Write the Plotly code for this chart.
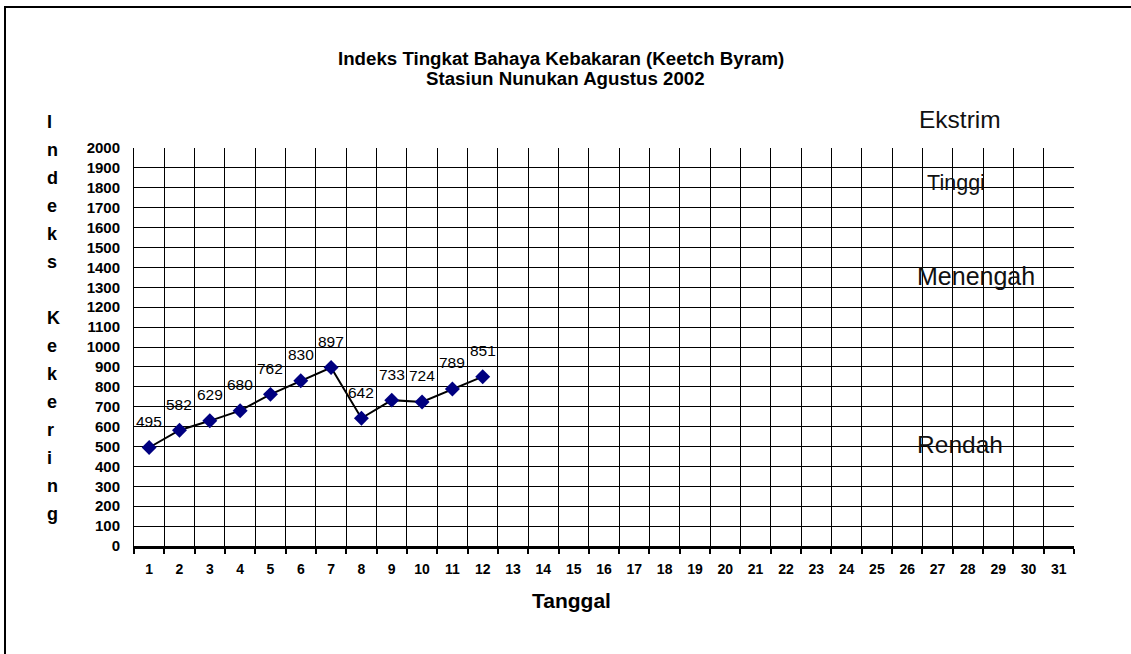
import plotly.graph_objects as go

# ---- data ----
days = [str(d) for d in range(1, 32)]
obs_days = ["1", "2", "3", "4", "5", "6", "7", "8", "9", "10", "11", "12"]
kbdi = [495, 582, 629, 680, 762, 830, 897, 642, 733, 724, 789, 851]
y_ticks = list(range(0, 2001, 100))
title_lines = ["Indeks Tingkat Bahaya Kebakaran (Keetch Byram)", "Stasiun Nunukan Agustus 2002"]
x_title = "Tanggal"
y_title = "Indeks Kekering"
class_labels = ["Ekstrim", "Tinggi", "Menengah", "Rendah"]

W, H = 1131, 654
L, R, T, B = 134, 57, 148, 108
PW, PH = W - L - R, H - T - B
FONT = "Arial, 'Liberation Sans', sans-serif"


def px(x):
    return (x - L) / PW


def py(y):
    return (H - B - y) / PH


fig = go.Figure()
fig.add_trace(go.Scatter(
    x=obs_days, y=kbdi, mode="lines+markers",
    line=dict(color="black", width=2),
    marker=dict(symbol="diamond", size=11.5, color="#000080",
                line=dict(width=0)),
    showlegend=False, hoverinfo="skip",
))

annotations = []
# data labels (category axis: position by category index)
for d, v in zip(obs_days, kbdi):
    annotations.append(dict(x=days.index(d), y=v, xref="x", yref="y", text=str(v),
                            showarrow=False, yshift=26, xanchor="center", yanchor="middle",
                            font=dict(family=FONT, size=15.5, color="black")))
# title
annotations.append(dict(x=px(561), y=py(58), xref="paper", yref="paper",
                        text="<b>%s</b>" % title_lines[0], showarrow=False,
                        xanchor="center", yanchor="middle",
                        font=dict(family=FONT, size=18.7, color="black")))
annotations.append(dict(x=px(565), y=py(78), xref="paper", yref="paper",
                        text="<b>%s</b>" % title_lines[1], showarrow=False,
                        xanchor="center", yanchor="middle",
                        font=dict(family=FONT, size=18.7, color="black")))
# x title
annotations.append(dict(x=px(571), y=py(600), xref="paper", yref="paper",
                        text="<b>%s</b>" % x_title, showarrow=False,
                        xanchor="center", yanchor="middle",
                        font=dict(family=FONT, size=21, color="black")))
# vertical y title, letter by letter
for i, ch in enumerate(y_title):
    if ch == " ":
        continue
    annotations.append(dict(x=px(45), y=py(128 + 28 * i - 6), xref="paper", yref="paper",
                            text="<b>%s</b>" % ch, showarrow=False,
                            xanchor="left", yanchor="middle",
                            font=dict(family=FONT, size=18, color="black")))
# class labels on the right: Ekstrim and Menengah fully visible
for lab, (cx, cy, fs) in [(class_labels[0], (959.5, 120, 24.5)),
                          (class_labels[2], (976, 276, 25))]:
    annotations.append(dict(x=px(cx), y=py(cy), xref="paper", yref="paper",
                            text=lab, showarrow=False,
                            xanchor="center", yanchor="middle",
                            font=dict(family=FONT, size=fs, color="#111111")))

# Tinggi and Rendah: cut off at the bottom as in the original (clipped text boxes)
clip_boxes = [
    (class_labels[1], 956, 185, 21.5, 160, 195, "x2", "y2"),
    (class_labels[3], 960, 447, 24.5, 425, 453, "x3", "y3"),
]
extra_axes = {}
for k, (lab, cx, cy, fs, top, bot, xa, ya) in enumerate(clip_boxes):
    fig.add_trace(go.Scatter(
        x=[cx], y=[cy], mode="text", text=[lab], textposition="middle center",
        textfont=dict(family=FONT, size=fs, color="#111111"),
        cliponaxis=True, xaxis=xa, yaxis=ya, showlegend=False, hoverinfo="skip"))
    n = xa[1:]
    extra_axes["xaxis" + n] = dict(domain=[0, 1], range=[L, W - R], visible=False,
                                   anchor=ya, fixedrange=True)
    extra_axes["yaxis" + n] = dict(domain=[py(bot), py(top)], range=[bot, top],
                                   visible=False, anchor=xa, fixedrange=True)

fig.update_layout(
    width=W, height=H,
    margin=dict(l=L, r=R, t=T, b=B, pad=0),
    paper_bgcolor="white", plot_bgcolor="rgba(0,0,0,0)",
    showlegend=False,
    annotations=annotations,
    shapes=[dict(type="rect", xref="paper", yref="paper",
                 x0=px(5), x1=px(1200), y0=py(7), y1=py(720),
                 line=dict(color="black", width=2), layer="above")],
    xaxis=dict(
        type="category", categoryorder="array", categoryarray=days,
        tickmode="array", tickvals=days, ticktext=days,
        range=[-0.5, 30.5], tickson="boundaries",
        ticks="outside", ticklen=5, tickwidth=2, tickcolor="black",
        showgrid=True, gridcolor="black", gridwidth=1,
        showline=True, linecolor="black", linewidth=2.5,
        zeroline=False, ticklabelstandoff=9,
        tickfont=dict(family=FONT, size=14, color="black", weight="bold"),
    ),
    yaxis=dict(
        range=[0, 2000], tickmode="array", tickvals=y_ticks,
        ticktext=[str(t) for t in y_ticks],
        showgrid=True, gridcolor="black", gridwidth=1,
        showline=True, linecolor="black", linewidth=1,
        zeroline=False, ticks="", ticklabelstandoff=10,
        tickfont=dict(family=FONT, size=15, color="black", weight="bold"),
    ),
    **extra_axes,
)

fig.write_html("out.html", config={"displayModeBar": False, "staticPlot": True})

# remove the default page margin so the figure sits at the window origin
with open("out.html", "r", encoding="utf-8") as f:
    html = f.read()
html = html.replace("<head>", "<head><style>html,body{margin:0;padding:0;overflow:hidden;}</style>", 1)
with open("out.html", "w", encoding="utf-8") as f:
    f.write(html)
